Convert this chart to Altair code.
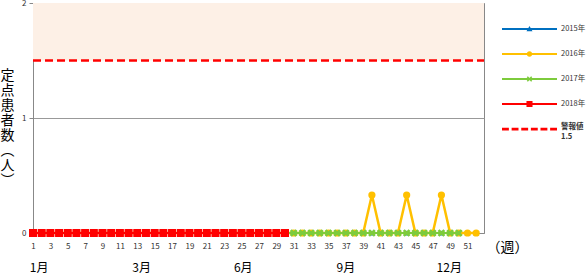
import altair as alt
import pandas as pd

FONT = "Noto Sans CJK JP"

weeks_2015 = list(range(1, 53))
values_2015 = [0, 0, 0, 0, 0, 0, 0, 0, 0, 0, 0, 0, 0, 0, 0, 0, 0, 0, 0, 0, 0, 0, 0, 0, 0, 0,
               0, 0, 0, 0, 0, 0, 0, 0, 0, 0, 0, 0, 0, 0, 0, 0, 0, 0, 0, 0, 0, 0, 0, 0, 0, 0]
weeks_2016 = list(range(1, 53))
values_2016 = [0, 0, 0, 0, 0, 0, 0, 0, 0, 0, 0, 0, 0, 0, 0, 0, 0, 0, 0, 0, 0, 0, 0, 0, 0, 0,
               0, 0, 0, 0, 0, 0, 0, 0, 0, 0, 0, 0, 0, 0.33, 0, 0, 0, 0.33, 0, 0, 0, 0.33, 0, 0, 0, 0]
weeks_2017 = list(range(1, 51))
values_2017 = [0, 0, 0, 0, 0, 0, 0, 0, 0, 0, 0, 0, 0, 0, 0, 0, 0, 0, 0, 0, 0, 0, 0, 0, 0,
               0, 0, 0, 0, 0, 0, 0, 0, 0, 0, 0, 0, 0, 0, 0, 0, 0, 0, 0, 0, 0, 0, 0, 0, 0]
weeks_2018 = list(range(1, 31))
values_2018 = [0, 0, 0, 0, 0, 0, 0, 0, 0, 0, 0, 0, 0, 0, 0, 0, 0, 0, 0, 0, 0, 0, 0, 0, 0, 0, 0, 0, 0, 0]

series_names = ["2015年", "2016年", "2017年", "2018年"]
series_colors = ["#0070C0", "#FFC000", "#7DCB3C", "#FF0000"]
alert_name = "警報値"
alert_value = 1.5
alert_color = "#FF0000"
band_top = 2

month_labels = ["1月", "3月", "6月", "9月", "12月"]
month_weeks = [1.7, 13.5, 25.2, 37.0, 48.9]
week_ticks = list(range(1, 52, 2))
y_ticks = [0.0, 1.0, 2.0]
y_title = ["定", "点", "患", "者", "数", "︵", "人", "︶"]

X_DOMAIN = [1, 52.9]
xscale = alt.Scale(domain=X_DOMAIN, nice=False, zero=False)
yscale = alt.Scale(domain=[0, 2], nice=False)

x_axis = alt.Axis(values=week_ticks, grid=False, ticks=False, labelFontSize=8, labelColor="#333",
                  labelPadding=9, labelFont=FONT, domainColor="#888", title="（週）",
                  labelOverlap=False, labelBound=False, format="d",
                  titleFont=FONT, titleFontSize=14, titleFontWeight="normal", titleColor="#000",
                  titleX=474, titleY=14, titleBaseline="middle", titleAlign="center", labelFlush=False)
y_axis = alt.Axis(values=y_ticks, labelExpr="format(datum.value, 'd')", grid=True, gridColor="#999",
                  tickColor="#888", tickSize=4,
                  labelFontSize=8, labelColor="#333", labelPadding=3, labelFont=FONT, domainColor="#888",
                  title=y_title, titleFont=FONT, titleFontSize=14, titleFontWeight="normal",
                  titleColor="#000", titleAngle=0, titleX=-26, titleY=65, titleBaseline="top",
                  titleAlign="center", titleLineHeight=15)


def X(field):
    return alt.X(f"{field}:Q", scale=xscale, axis=x_axis)


def Y(field):
    return alt.Y(f"{field}:Q", scale=yscale, axis=y_axis)


band_df = pd.DataFrame({"x": [X_DOMAIN[0]], "x2": [X_DOMAIN[1]], "y": [alert_value], "y2": [band_top]})
band = alt.Chart(band_df).mark_rect(color="#FDF0E6").encode(x=X("x"), x2="x2:Q", y=Y("y"), y2="y2:Q")

alert = alt.Chart(band_df).mark_rule(color=alert_color, strokeWidth=2.5, strokeDash=[8, 4]).encode(
    x=X("x"), x2="x2:Q", y=Y("y"))

# fat X marker for 2017
A, E = 0.75, 0.25
X_PATH = (f"M{-A+E},{-A-E}L{A+E},{A-E}L{A-E},{A+E}L{-A-E},{-A+E}Z"
          f"M{-A+E},{A+E}L{-A-E},{A-E}L{A-E},{-A-E}L{A+E},{-A+E}Z")

all_weeks = [weeks_2015, weeks_2016, weeks_2017, weeks_2018]
all_values = [values_2015, values_2016, values_2017, values_2018]
marker_props = [
    dict(shape="triangle-up", size=36),
    dict(shape="circle", size=52),
    dict(shape=X_PATH, size=60),
    dict(shape="square", size=64),
]
line_widths = [2, 2.5, 2, 2]

layers = [band, alert]
for name, col, wk, vals, mp, lw in zip(series_names, series_colors, all_weeks, all_values, marker_props, line_widths):
    df = pd.DataFrame({"week": wk, "value": vals})
    base = alt.Chart(df).encode(x=X("week"), y=Y("value"))
    layers.append(base.mark_line(color=col, strokeWidth=lw))
    layers.append(base.mark_point(color=col, filled=True, opacity=1, strokeWidth=0, **mp))

# month labels below the axis
month_df = pd.DataFrame({"m": month_labels, "week": month_weeks})
months = alt.Chart(month_df).mark_text(font=FONT, fontSize=12, color="#000", baseline="middle").encode(
    x=X("week"), y=alt.value(265), text="m:N")
layers.append(months)

# legend (symbols = line + marker)
bar = "M-1,-0.04H1V0.04H-1Z"
tri = "M0,-0.11L0.11,0.08H-0.11Z"
circ = "M-0.1,0A0.1,0.1,0,1,1,0.1,0A0.1,0.1,0,1,1,-0.1,0Z"
e, a = 0.02, 0.08
xmark = (f"M{-a+e},{-a-e}L{a+e},{a-e}L{a-e},{a+e}L{-a-e},{-a+e}Z"
         f"M{-a+e},{a+e}L{-a-e},{a-e}L{a-e},{-a-e}L{a+e},{-a+e}Z")
sq = "M-0.11,-0.11H0.11V0.11H-0.11Z"
dash = "".join(f"M{-1 + k * 0.35:.2f},-0.05h0.25v0.1h-0.25Z" for k in range(6))
legend_paths = [bar + tri, bar + circ, bar + xmark, bar + sq, dash]

legend_domain = series_names + [alert_name]
legend_range = series_colors + [alert_color]
leg = alt.Legend(title=None, orient="none", legendX=469, legendY=13.5, symbolSize=3025, clipHeight=25,
                 rowPadding=0, padding=0, symbolStrokeWidth=0, labelFont=FONT, labelFontSize=7.5,
                 labelColor="#333", labelOffset=4, labelLimit=200, symbolOpacity=1,
                 labelExpr="datum.label == '警報値' ? ['警報値', '1.5'] : datum.label",
                 labelFontWeight=alt.ExprRef("datum.label == '警報値' ? 'bold' : 'normal'"),
                 labelBaseline=alt.ExprRef("datum.label == '警報値' ? 'alphabetic' : 'middle'"))
leg_df = pd.DataFrame({"series": legend_domain, "week": [1] * 5, "value": [0] * 5})
legend_layer = alt.Chart(leg_df).transform_filter("false").mark_point(filled=True, opacity=1).encode(
    x=X("week"), y=Y("value"),
    color=alt.Color("series:N", scale=alt.Scale(domain=legend_domain, range=legend_range), legend=leg),
    shape=alt.Shape("series:N", scale=alt.Scale(domain=legend_domain, range=legend_paths), legend=leg))
layers.append(legend_layer)

chart = alt.layer(*layers).properties(
    width=451, height=230,
    autosize=alt.AutoSizeParams(type="none"),
    padding={"left": 33, "top": 3, "right": 102, "bottom": 41},
    background="white",
).configure_view(stroke="#888", strokeWidth=1)

chart.save("out.html", embed_options={"renderer": "svg", "actions": False})
